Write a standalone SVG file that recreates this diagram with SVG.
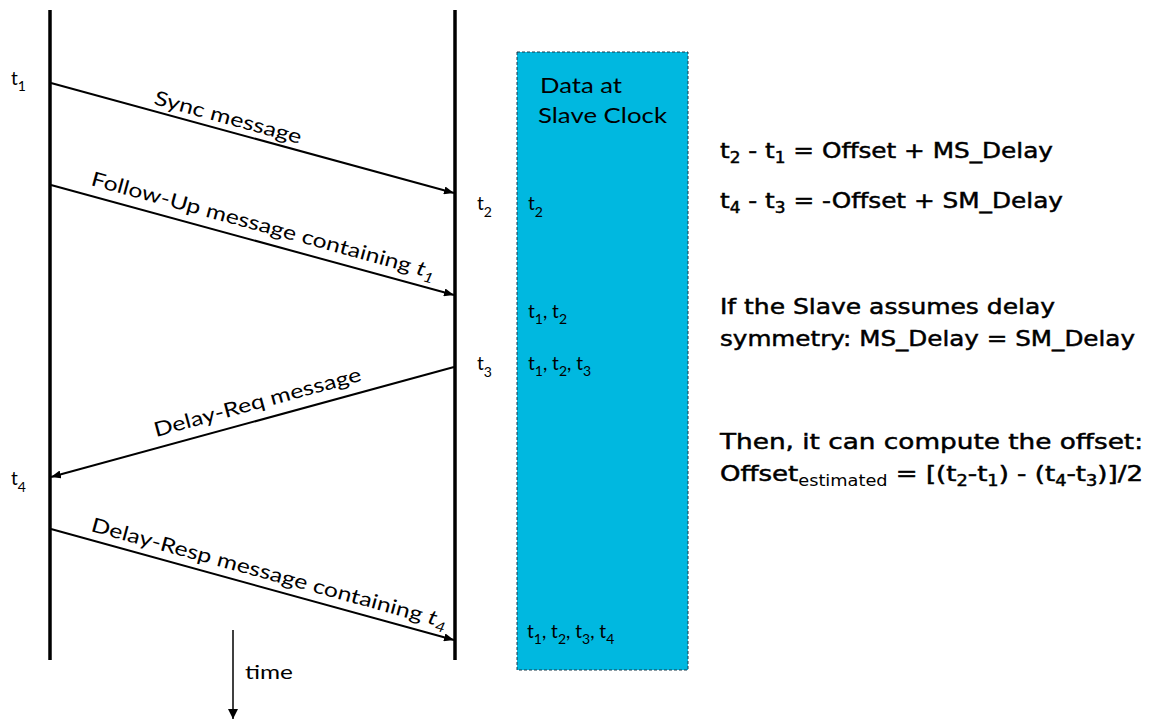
<svg xmlns="http://www.w3.org/2000/svg" width="1160" height="720" viewBox="0 0 1160 720">
<style>
.g{font-family:Lato,"DejaVu Sans",sans-serif;font-weight:400;fill:#000;}
.m{font-family:"DejaVu Sans","Open Sans",sans-serif;font-weight:400;fill:#000;stroke:#000;stroke-width:0.5;font-size:22px;}
.tl{font-size:19px;}
.lbl{font-size:20px;}
.life{stroke:#000;stroke-width:3.5;}
.msg{stroke:#000;stroke-width:2;fill:none;marker-end:url(#ah);}
</style>
<defs>
<marker id="ah" viewBox="0 0 10 8" refX="10" refY="4" markerWidth="10" markerHeight="8" markerUnits="userSpaceOnUse" orient="auto">
<path d="M0,0 L10,4 L0,8 Z" fill="#000"/>
</marker>
<marker id="ah2" viewBox="0 0 10 10" refX="10" refY="5" markerWidth="10" markerHeight="10" markerUnits="userSpaceOnUse" orient="auto">
<path d="M0,0 L10,5 L0,10 Z" fill="#000"/>
</marker>
</defs>
<rect width="1160" height="720" fill="#fff"/>

<g id="master">
<line class="life" x1="50" y1="10" x2="50" y2="660"/>
<text class="g tl" x="11" y="85">t<tspan font-size="14" dy="6">1</tspan></text>
<text class="g tl" x="11" y="485">t<tspan font-size="14" dy="7">4</tspan></text>
</g>

<g id="slave">
<line class="life" x1="455" y1="10" x2="455" y2="660"/>
<text class="g tl" x="477" y="210">t<tspan font-size="14" dy="7">2</tspan></text>
<text class="g tl" x="477" y="370">t<tspan font-size="14" dy="7">3</tspan></text>
</g>

<g id="slave-data">
<rect x="517" y="52" width="171" height="618" fill="#00B8E0" stroke="#1a3a4a" stroke-width="1" stroke-dasharray="3,2"/>
<text class="g" font-size="22" x="540" y="93" textLength="82" lengthAdjust="spacingAndGlyphs">Data at</text>
<text class="g" font-size="22" x="538" y="123" textLength="129" lengthAdjust="spacingAndGlyphs">Slave Clock</text>
<text class="g tl" x="528" y="210">t<tspan font-size="14" dy="7">2</tspan></text>
<text class="g tl" x="528" y="318">t<tspan font-size="14" dy="6">1</tspan><tspan dy="-6">, t</tspan><tspan font-size="14" dy="6">2</tspan></text>
<text class="g tl" x="528" y="370">t<tspan font-size="14" dy="6">1</tspan><tspan dy="-6">, t</tspan><tspan font-size="14" dy="6">2</tspan><tspan dy="-6">, t</tspan><tspan font-size="14" dy="6">3</tspan></text>
<text class="g tl" x="527" y="638">t<tspan font-size="14" dy="6">1</tspan><tspan dy="-6">, t</tspan><tspan font-size="14" dy="6">2</tspan><tspan dy="-6">, t</tspan><tspan font-size="14" dy="6">3</tspan><tspan dy="-6">, t</tspan><tspan font-size="14" dy="6">4</tspan></text>
</g>

<g id="connectors">
<line class="msg" x1="51" y1="83" x2="454" y2="193"/>
<line class="msg" x1="51" y1="185" x2="454" y2="295"/>
<line class="msg" x1="454" y1="367" x2="51" y2="477"/>
<line class="msg" x1="51" y1="529" x2="454" y2="640"/>
<line stroke="#000" stroke-width="1.5" x1="233" y1="630" x2="233" y2="719" marker-end="url(#ah2)"/>
</g>

<g id="labels">
<text class="g lbl" transform="translate(153,104) rotate(15.3)" textLength="152" lengthAdjust="spacingAndGlyphs">Sync message</text>
<text class="g lbl" transform="translate(90,185) rotate(15.3)" textLength="356" lengthAdjust="spacingAndGlyphs">Follow-Up message containing <tspan font-style="italic">t</tspan><tspan font-size="14" dy="5" font-style="italic">1</tspan></text>
<text class="g lbl" transform="translate(156,437) rotate(-15.3)" textLength="214" lengthAdjust="spacingAndGlyphs">Delay-Req message</text>
<text class="g lbl" transform="translate(90,531) rotate(15.3)" textLength="368" lengthAdjust="spacingAndGlyphs">Delay-Resp message containing <tspan font-style="italic">t</tspan><tspan font-size="14" dy="5" font-style="italic">4</tspan></text>
<text class="g" font-size="19" x="245" y="679" textLength="48" lengthAdjust="spacingAndGlyphs">time</text>
</g>

<g id="equations">
<text class="m" x="720" y="158" textLength="333" lengthAdjust="spacingAndGlyphs">t<tspan font-size="15" dy="5">2</tspan><tspan dy="-5"> - t</tspan><tspan font-size="15" dy="5">1</tspan><tspan dy="-5"> = Offset + MS_Delay</tspan></text>
<text class="m" x="720" y="208" textLength="343" lengthAdjust="spacingAndGlyphs">t<tspan font-size="15" dy="5">4</tspan><tspan dy="-5"> - t</tspan><tspan font-size="15" dy="5">3</tspan><tspan dy="-5"> = -Offset + SM_Delay</tspan></text>
<text class="m" x="720" y="314" textLength="335" lengthAdjust="spacingAndGlyphs">If the Slave assumes delay</text>
<text class="m" x="720" y="346" textLength="415" lengthAdjust="spacingAndGlyphs">symmetry: MS_Delay = SM_Delay</text>
<text class="m" x="720" y="449" textLength="423" lengthAdjust="spacingAndGlyphs">Then, it can compute the offset:</text>
<text class="m" x="720" y="481" textLength="423" lengthAdjust="spacingAndGlyphs">Offset<tspan font-size="15" stroke-width="0" dy="5">estimated</tspan><tspan dy="-5"> = [(t</tspan><tspan font-size="15" dy="5">2</tspan><tspan dy="-5">-t</tspan><tspan font-size="15" dy="5">1</tspan><tspan dy="-5">) - (t</tspan><tspan font-size="15" dy="5">4</tspan><tspan dy="-5">-t</tspan><tspan font-size="15" dy="5">3</tspan><tspan dy="-5">)]/2</tspan></text>
</g>
</svg>
